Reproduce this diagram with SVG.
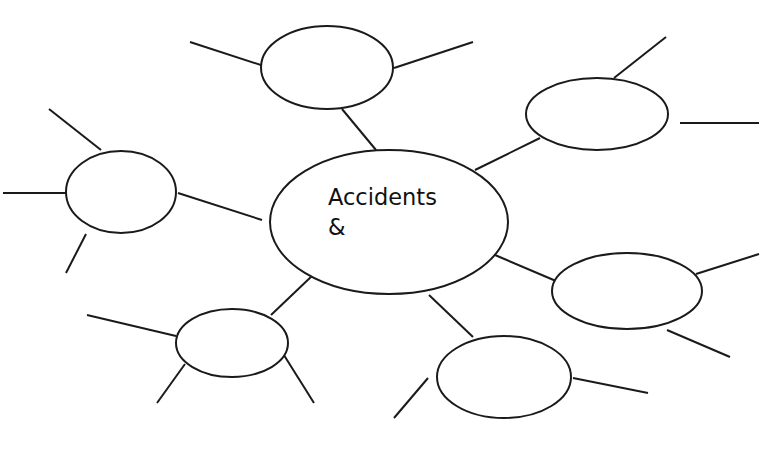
<svg xmlns="http://www.w3.org/2000/svg" width="777" height="454" viewBox="0 0 777 454">
<style>
.n{fill:#fff;stroke:#1a1a1a;stroke-width:2}
.c line{stroke:#1a1a1a;stroke-width:2;stroke-linecap:butt}
.t{font-family:"DejaVu Sans",Verdana,sans-serif;font-size:22.5px;fill:#111}
</style>
<rect width="777" height="454" fill="#fff"/>
<g id="connectors" class="c">
<line x1="342" y1="109" x2="376" y2="150"/>
<line x1="190" y1="42" x2="270" y2="68"/>
<line x1="394" y1="68" x2="473" y2="42"/>
<line x1="475" y1="170" x2="540" y2="138"/>
<line x1="614" y1="78" x2="666" y2="37"/>
<line x1="680" y1="123" x2="759" y2="123"/>
<line x1="178" y1="193" x2="262" y2="220"/>
<line x1="49" y1="109" x2="101" y2="150"/>
<line x1="3" y1="193" x2="66" y2="193"/>
<line x1="86" y1="234" x2="66" y2="273"/>
<line x1="271" y1="315" x2="313" y2="275"/>
<line x1="87" y1="315" x2="176" y2="336"/>
<line x1="185" y1="364" x2="157" y2="403"/>
<line x1="282" y1="352" x2="314" y2="403"/>
<line x1="429" y1="295" x2="473" y2="337"/>
<line x1="428" y1="378" x2="394" y2="418"/>
<line x1="573" y1="378" x2="648" y2="393"/>
<line x1="495" y1="255" x2="556" y2="281"/>
<line x1="696" y1="274" x2="759" y2="254"/>
<line x1="667" y1="330" x2="730" y2="357"/>
</g>
<g id="center"><ellipse class="n" cx="389" cy="222" rx="119" ry="72"/>
<text class="t" x="328" y="205">Accidents</text>
<text class="t" x="328" y="235">&amp;</text></g>
<g id="node-top"><ellipse class="n" cx="327" cy="67.5" rx="66" ry="41.5"/></g>
<g id="node-top-right"><ellipse class="n" cx="597" cy="114" rx="71" ry="36"/></g>
<g id="node-left"><ellipse class="n" cx="121" cy="192" rx="55" ry="41"/></g>
<g id="node-bottom-left"><ellipse class="n" cx="232" cy="343" rx="56" ry="34"/></g>
<g id="node-bottom"><ellipse class="n" cx="504" cy="377" rx="67" ry="41"/></g>
<g id="node-right"><ellipse class="n" cx="627" cy="291" rx="75" ry="38"/></g>
</svg>
